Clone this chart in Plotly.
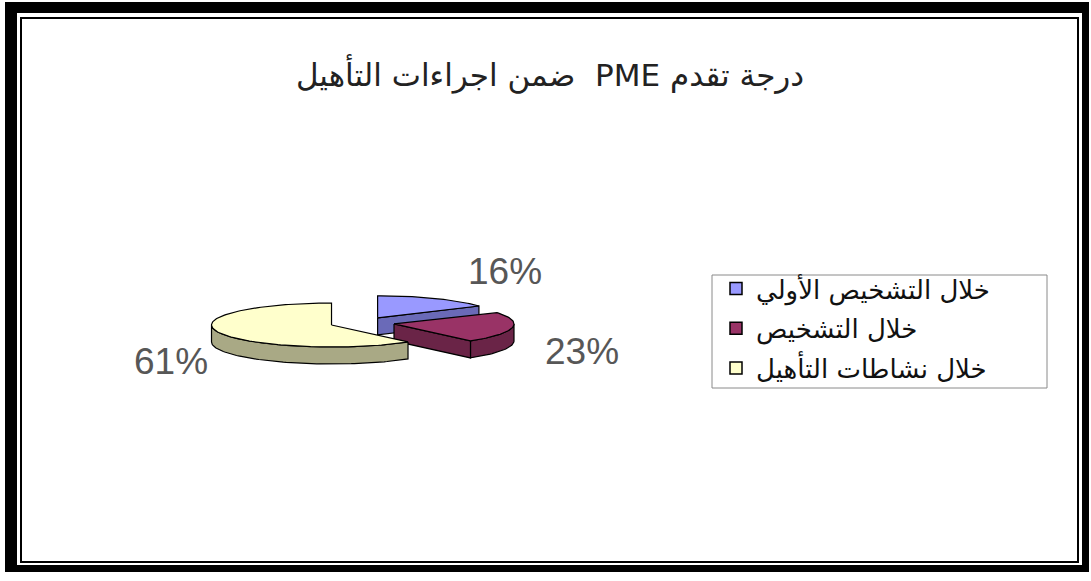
import numpy as np
import plotly.graph_objects as go

# ---- data ----
title_text = "درجة تقدم PME  ضمن اجراءات التأهيل"
categories = ["خلال التشخيص الأولي", "خلال التشخيص", "خلال نشاطات التأهيل"]
values = [16, 23, 61]

# ---- style ----
top_colors = ["#9999FF", "#993366", "#FFFFCC"]
side_colors = ["#6A6AB8", "#6A2447", "#A9A985"]
W, H = 1091, 581
CX, CY = 362, 323          # pie centre (pixel-like coords)
RX, RY = 120, 22           # ellipse radii of the tilted pie
DEPTH = 17                 # thickness of the 3-D pie
EXPLODE = 0.27             # explosion as a fraction of radius
label_pos = [(505, 271), (582, 351), (171, 361)]

total = float(sum(values))
fracs = [v / total for v in values]
bounds = np.concatenate([[0.0], np.cumsum(fracs)]) * 360.0


def arc(sx, sy, a0, a1, dz=0.0):
    n = max(2, int(abs(a1 - a0) / 1.5) + 1)
    t = np.radians(np.linspace(a0, a1, n))
    return list(sx + RX * np.sin(t)), list(sy - RY * np.cos(t) + dz)


def pt(sx, sy, a, dz=0.0):
    r = np.radians(a)
    return sx + RX * np.sin(r), sy - RY * np.cos(r) + dz


def poly(xs, ys, color):
    return go.Scatter(x=xs + [xs[0]], y=ys + [ys[0]], mode="lines", fill="toself",
                      fillcolor=color, line=dict(color="black", width=1.2),
                      showlegend=False, hoverinfo="skip")


slices = []
for i, v in enumerate(values):
    a0, a1 = bounds[i], bounds[i + 1]
    mid = np.radians((a0 + a1) / 2)
    sx = CX + EXPLODE * RX * np.sin(mid)
    sy = CY - EXPLODE * RY * np.cos(mid)
    slices.append((sy, i, a0, a1, sx))

fig = go.Figure()
for sy, i, a0, a1, sx in sorted(slices):
    # outer curved wall (front half only)
    lo, hi = max(a0, 90.0), min(a1, 270.0)
    if hi > lo:
        tx, ty = arc(sx, sy, lo, hi)
        bx, by = arc(sx, sy, hi, lo, DEPTH)
        fig.add_trace(poly(tx + bx, ty + by, side_colors[i]))
    # radial walls
    for a, sgn in ((a1, 1), (a0, -1)):
        if sgn * np.sin(np.radians(a)) > 1e-6:
            px, py = pt(sx, sy, a)
            fig.add_trace(poly([sx, px, px, sx], [sy, py, py + DEPTH, sy + DEPTH], side_colors[i]))
    # top face
    tx, ty = arc(sx, sy, a0, a1)
    fig.add_trace(poly([sx] + tx, [sy] + ty, top_colors[i]))

# legend entries
for i, c in enumerate(categories):
    fig.add_trace(go.Scatter(x=[None], y=[None], mode="markers", name=c,
                             legendgroup=f"g{i}",
                             marker=dict(symbol="square", size=12, color=top_colors[i],
                                         line=dict(color="black", width=1.5))))

# percentage labels
for i, f in enumerate(fracs):
    fig.add_annotation(x=label_pos[i][0], y=label_pos[i][1], text=f"{round(f * 100)}%",
                       showarrow=False, xanchor="center", yanchor="middle",
                       font=dict(family="Liberation Sans, Arial", size=37, color="#575757"))

shapes = [
    dict(type="rect", x0=5, y0=2, x1=1089, y1=572, fillcolor="black", line=dict(width=0), layer="below"),
    dict(type="rect", x0=17, y0=13, x1=1082, y1=565, fillcolor="white", line=dict(width=0), layer="below"),
    dict(type="rect", x0=21, y0=18, x1=1078, y1=562, line=dict(color="black", width=2), layer="below"),
    # legend frame
    dict(type="rect", x0=712, y0=275, x1=1047, y1=388, line=dict(color="#8a8a8a", width=1), layer="below"),
]

fig.update_layout(
    width=W, height=H,
    margin=dict(l=0, r=0, t=0, b=0),
    paper_bgcolor="white", plot_bgcolor="white",
    xaxis=dict(range=[0, W], visible=False, fixedrange=True),
    yaxis=dict(range=[H, 0], visible=False, fixedrange=True),
    shapes=shapes,
    title=dict(text="\u202B" + title_text + "\u202C", x=550 / W, y=1 - 75 / H,
               xanchor="center", yanchor="middle",
               font=dict(family="DejaVu Sans, Liberation Sans, Arial", size=31, color="#222")),
    showlegend=True,
    legend=dict(x=716 / W, y=1 - 265 / H, xanchor="left", yanchor="top",
                bgcolor="rgba(0,0,0,0)", borderwidth=0,
                traceorder="grouped", tracegroupgap=3,
                font=dict(family="DejaVu Sans, Arial", size=26, color="#111")),
)

fig.write_html("out.html")
